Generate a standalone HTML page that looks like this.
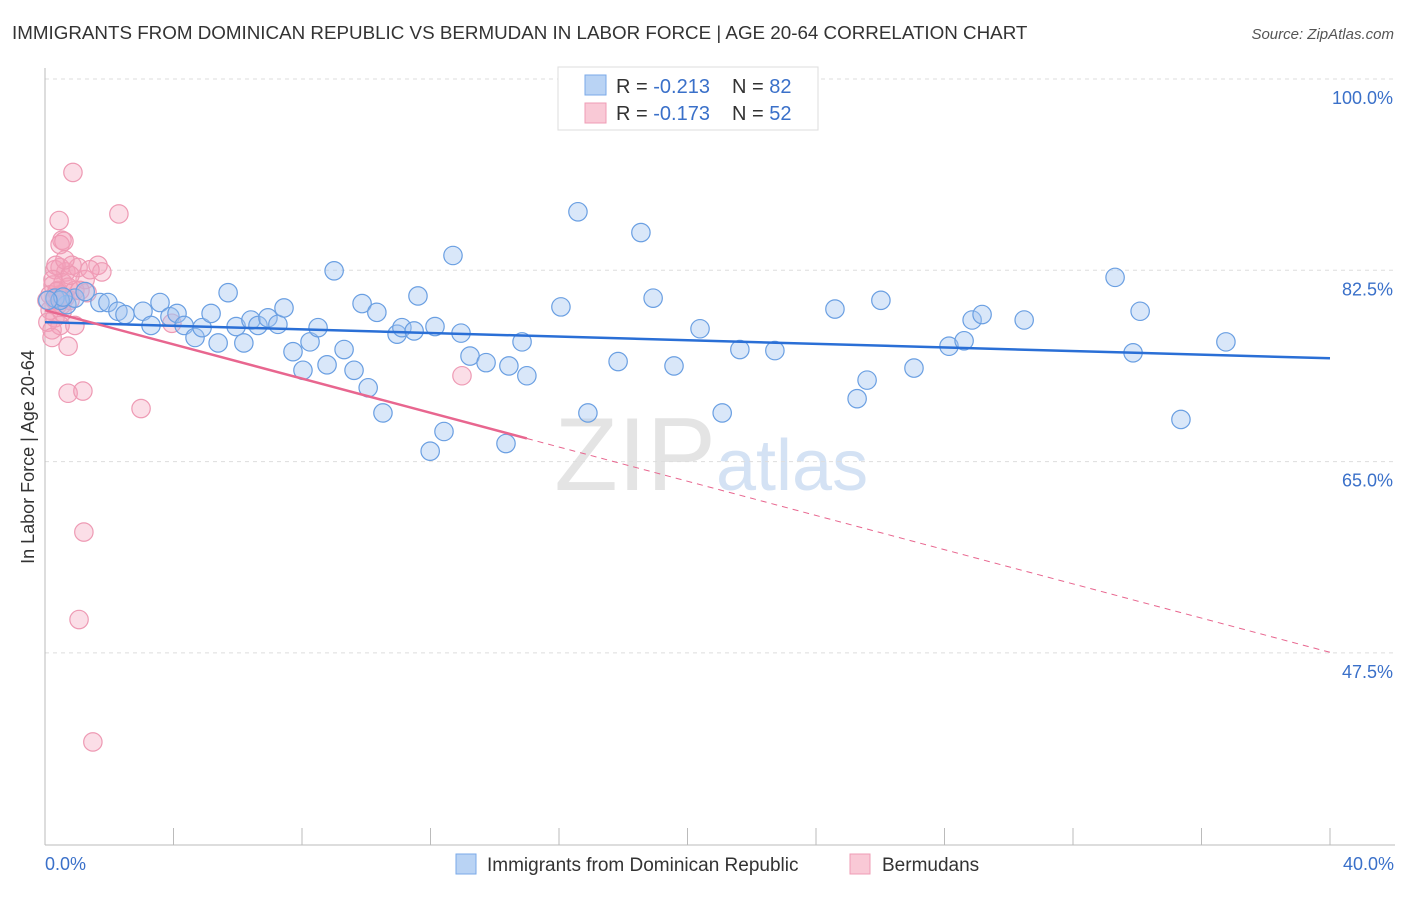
<!DOCTYPE html>
<html><head><meta charset="utf-8"><style>
body{margin:0;background:#fff;font-family:"Liberation Sans",sans-serif;}
svg text{font-family:"Liberation Sans",sans-serif;}
</style></head><body>
<svg id="c" width="1406" height="892" xmlns="http://www.w3.org/2000/svg">
<text x="12" y="39" font-size="18.8" fill="#333">IMMIGRANTS FROM DOMINICAN REPUBLIC VS BERMUDAN IN LABOR FORCE | AGE 20-64 CORRELATION CHART</text>
<text x="1394" y="39" font-size="15" fill="#555" font-style="italic" text-anchor="end">Source: ZipAtlas.com</text>
<text x="716" y="490" font-size="104" fill="#e4e4e4" text-anchor="end" font-family="Liberation Serif">ZIP</text>
<text x="716" y="490" font-size="72" fill="#d4e2f4">atlas</text>
<g id="grid"></g>
<g id="axes"></g>
<g id="pts"></g>
<g id="trend"></g>
<g>
<rect x="558" y="67" width="260" height="63" fill="#fff" stroke="#ddd"/>
<rect x="585" y="75" width="21" height="20" fill="#b9d3f4" stroke="#7aaae8"/>
<rect x="585" y="103" width="21" height="20" fill="#f9c9d6" stroke="#ef9cb5"/>
<text x="616" y="93" font-size="20" fill="#333">R = <tspan fill="#3a70c9">-0.213</tspan></text>
<text x="732" y="93" font-size="20" fill="#333">N = <tspan fill="#3a70c9">82</tspan></text>
<text x="616" y="120" font-size="20" fill="#333">R = <tspan fill="#3a70c9">-0.173</tspan></text>
<text x="732" y="120" font-size="20" fill="#333">N = <tspan fill="#3a70c9">52</tspan></text>
</g>
<text x="34" y="457" font-size="18" fill="#333" text-anchor="middle" transform="rotate(-90 34 457)">In Labor Force | Age 20-64</text>
<g>
<rect x="456" y="854" width="20" height="20" fill="#b9d3f4" stroke="#7aaae8"/>
<text x="487" y="871" font-size="19" fill="#333">Immigrants from Dominican Republic</text>
<rect x="850" y="854" width="20" height="20" fill="#f9c9d6" stroke="#ef9cb5"/>
<text x="882" y="871" font-size="19" fill="#333">Bermudans</text>
</g>
</svg>
<script>
const yTicks=[100,82.5,65,47.5];
const yTickLabels=["100.0%","82.5%","65.0%","47.5%"];
const xTickLabels=["0.0%","40.0%"];
const blueX=[0.68,0.93,1.25,1.71,1.96,2.27,2.49,3.05,3.30,3.58,3.89,4.11,4.33,4.67,4.89,5.17,5.39,5.70,5.95,6.19,6.41,6.63,6.94,7.25,7.44,7.72,8.03,8.25,8.50,8.78,9.00,9.31,9.62,9.87,10.06,10.33,10.52,10.96,11.11,11.49,11.61,11.99,12.14,12.42,12.70,12.95,13.23,13.73,14.35,14.44,14.85,15.00,16.06,16.59,16.90,17.84,18.55,18.93,19.58,20.39,21.08,21.63,22.72,24.59,25.28,25.59,26.02,27.05,28.14,28.61,28.86,29.17,30.48,33.31,33.87,34.09,35.36,36.76,0.31,0.47,0.56,0.09];
const blueY=[81.0,81.6,82.2,81.2,81.2,80.4,80.1,80.4,79.1,81.2,79.9,80.2,79.1,78.0,78.9,80.2,77.5,82.1,79.0,77.5,79.6,79.1,79.8,79.2,80.7,76.7,75.0,77.6,78.9,75.5,84.1,76.9,75.0,81.1,73.4,80.3,71.1,78.3,78.9,78.6,81.8,67.6,79.0,69.4,85.5,78.4,76.3,75.7,68.3,75.4,77.6,74.5,80.8,89.5,71.1,75.8,87.6,81.6,75.4,78.8,71.1,76.9,76.8,80.6,72.4,74.1,81.4,75.2,77.2,77.7,79.6,80.1,79.6,83.5,76.6,80.4,70.5,77.6,81.6,81.4,81.7,81.4];
const pinkX=[0.87,2.30,0.44,0.53,0.47,0.59,0.31,0.47,0.65,0.84,1.03,1.65,1.77,0.25,0.40,0.56,0.72,0.93,1.25,0.16,0.31,0.47,0.62,0.16,0.31,0.53,0.09,0.22,0.47,0.93,0.22,0.72,1.31,3.95,12.98,2.99,0.72,1.18,1.21,1.06,1.49,0.34,0.78,1.40,0.06,0.40,0.78,1.09,0.25,0.62,0.37,0.53];
const pinkY=[93.1,89.3,88.7,86.9,86.5,86.8,84.2,84.4,84.0,84.6,84.4,84.6,84.0,82.8,82.3,83.0,82.6,82.3,83.3,81.9,81.4,81.9,81.6,80.5,79.8,80.3,79.4,78.7,79.1,79.1,78.0,77.2,82.1,79.3,74.5,71.5,72.9,73.1,60.2,52.2,41.0,84.6,83.7,84.2,81.4,81.0,81.4,82.3,83.3,85.1,82.2,81.0];
const blueTrend=[79.4,76.1];
const pinkTrend=[80.5,49.2];
const pinkSolidEnd=15;
const NS="http://www.w3.org/2000/svg";
const X=v=>45+v/40*1285;
const Y=v=>97+(100-v)/17.5*191.3;
function mk(tag,attrs,parent){const e=document.createElementNS(NS,tag);for(const k in attrs)e.setAttribute(k,attrs[k]);document.getElementById(parent).appendChild(e);return e;}
yTicks.forEach((t,i)=>{
 const l=mk('line',{x1:45,x2:1395,y1:Y(t)-18,y2:Y(t)-18,stroke:'#ddd','stroke-dasharray':'4,4'},'grid');
 
 
 const tx=mk('text',{x:1393,y:Y(t)+7,'font-size':18,fill:'#3a70c9','text-anchor':'end'},'grid');
 tx.textContent=yTickLabels[i];
 
 
});
const ax=mk('line',{x1:45,x2:45,y1:68,y2:845,stroke:'#bbb'},'axes');


const bx=mk('line',{x1:45,x2:1395,y1:845,y2:845,stroke:'#bbb'},'axes');


for(let i=1;i<=10;i++){const tk=mk('line',{x1:X(i*4),x2:X(i*4),y1:828,y2:845,stroke:'#bbb'},'axes');
 
 }
[[0,'start',45],[40,'end',1394]].forEach((d,i)=>{const t=mk('text',{x:d[2],y:870,'font-size':18,fill:'#3a70c9','text-anchor':d[1]},'axes');t.textContent=xTickLabels[i];
 
 });
pinkX.forEach((x,i)=>{const c=mk('circle',{cx:X(x),cy:Y(pinkY[i]),r:9.2,fill:'rgba(244,160,186,0.35)',stroke:'#ee9ab4','stroke-width':1.2},'pts');
 
 });
blueX.forEach((x,i)=>{const c=mk('circle',{cx:X(x),cy:Y(blueY[i]),r:9.2,fill:'rgba(160,196,240,0.4)',stroke:'#6a9fe2','stroke-width':1.2},'pts');
 
 });
const bt=mk('line',{x1:X(0),y1:Y(blueTrend[0]),x2:X(40),y2:Y(blueTrend[1]),stroke:'#2a6fd6','stroke-width':2.5},'trend');


const pAt=x=>pinkTrend[0]+(pinkTrend[1]-pinkTrend[0])*x/40;
const pt=mk('line',{x1:X(0),y1:Y(pAt(0)),x2:X(pinkSolidEnd),y2:Y(pAt(pinkSolidEnd)),stroke:'#e8668f','stroke-width':2.5},'trend');


const pd=mk('line',{x1:X(pinkSolidEnd),y1:Y(pAt(pinkSolidEnd)),x2:X(40),y2:Y(pAt(40)),stroke:'#e8668f','stroke-width':1,'stroke-dasharray':'6,5'},'trend');


</script>
</body></html>
